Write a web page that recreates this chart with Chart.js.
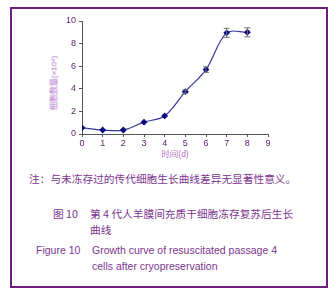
<!DOCTYPE html>
<html>
<head>
<meta charset="utf-8">
<script src="https://cdn.jsdelivr.net/npm/chart.js@4/dist/chart.umd.min.js"></script>
<style>
  body { margin: 0; background: #fff; width: 336px; height: 296px; overflow: hidden; position: relative; }
  #frame { position: absolute; left: 10px; top: 7px; width: 314px; height: 277px; border: 2px solid #6e1f7e; }
  #chartBox { position: absolute; left: 0; top: 0; width: 336px; height: 170px; }
  #yTitle { position: absolute; left: 53px; top: 83px; transform: translate(-50%, -50%) rotate(-90deg);
            font-family: "Liberation Sans", "Noto Sans CJK SC", sans-serif; font-size: 8px; color: #b070c8; white-space: nowrap; }
  .cap { position: absolute; color: #7d3590; white-space: nowrap; }
  .zh { font-family: "Noto Sans CJK SC", sans-serif; font-size: 10.7px; }
  .en { font-family: "Liberation Sans", Arial, sans-serif; font-size: 10.5px; }
</style>
</head>
<body>
<div id="frame"></div>
<div id="chartBox"><canvas id="growth"></canvas></div>
<div id="yTitle">细胞数量(×10⁴)</div>

<div class="cap zh" style="left:29px; top:171px;">注：与未冻存过的传代细胞生长曲线差异无显著性意义。</div>
<div class="cap zh" style="left:53px; top:206px;">图 10</div>
<div class="cap zh" style="left:90px; top:206px;">第 4 代人羊膜间充质干细胞冻存复苏后生长</div>
<div class="cap zh" style="left:90px; top:222px;">曲线</div>
<div class="cap en" style="left:36px; top:244px;">Figure 10</div>
<div class="cap en" style="left:92px; top:244px;">Growth curve of resuscitated passage 4</div>
<div class="cap en" style="left:92px; top:260px;">cells after cryopreservation</div>

<script>
var days = [0, 1, 2, 3, 4, 5, 6, 7, 8];
var cellCounts = [0.55, 0.35, 0.35, 1.05, 1.6, 3.75, 5.7, 8.95, 9.0];
var errors = [0, 0, 0, 0, 0, 0.15, 0.25, 0.4, 0.4];
var yTicks = [0, 1, 2, 3, 4, 5, 6, 7, 8, 9, 10];
var xTicks = [0, 1, 2, 3, 4, 5, 6, 7, 8, 9];

var points = days.map(function (d, i) { return { x: d, y: cellCounts[i] }; });

// error bars drawn through the chart scales
var errorBars = {
  id: 'errorBars',
  afterDatasetsDraw: function (chart) {
    var ctx = chart.ctx;
    var xs = chart.scales.x, ys = chart.scales.y;
    ctx.save();
    ctx.strokeStyle = '#777';
    ctx.lineWidth = 1;
    days.forEach(function (d, i) {
      if (!errors[i]) return;
      var px = xs.getPixelForValue(d);
      var top = ys.getPixelForValue(cellCounts[i] + errors[i]);
      var bot = ys.getPixelForValue(cellCounts[i] - errors[i]);
      ctx.beginPath();
      ctx.moveTo(px, top); ctx.lineTo(px, bot);
      ctx.moveTo(px - 3, top); ctx.lineTo(px + 3, top);
      ctx.moveTo(px - 3, bot); ctx.lineTo(px + 3, bot);
      ctx.stroke();
    });
    ctx.restore();
  }
};

new Chart(document.getElementById('growth'), {
  type: 'line',
  data: {
    datasets: [{
      data: points,
      borderColor: '#35379a',
      borderWidth: 1.2,
      backgroundColor: '#0a0a80',
      pointBackgroundColor: '#0a0a80',
      pointBorderColor: '#0a0a80',
      pointStyle: 'rectRot',
      pointRadius: 2.6,
      tension: 0.35
    }]
  },
  options: {
    responsive: true,
    maintainAspectRatio: false,
    animation: false,
    layout: { padding: { left: 40, right: 68, top: 21, bottom: 10 } },
    plugins: { legend: { display: false }, tooltip: { enabled: false } },
    scales: {
      x: {
        type: 'linear',
        min: 0,
        max: 9,
        afterBuildTicks: function (s) { s.ticks = xTicks.map(function (v) { return { value: v }; }); },
        afterFit: function (s) { s.height = 26; },
        grid: { drawOnChartArea: false, tickLength: 3, color: '#555' },
        border: { color: '#555', width: 1 },
        ticks: { color: '#5a1a70', font: { size: 9, family: 'Liberation Sans' }, padding: 1, maxRotation: 0 },
        title: { display: true, text: '时间(d)', color: '#b070c8', font: { size: 8.5, family: '"Liberation Sans", "Noto Sans CJK SC"' }, padding: { top: 0, bottom: 0 } }
      },
      y: {
        min: 0,
        max: 10,
        afterBuildTicks: function (s) { s.ticks = yTicks.map(function (v) { return { value: v }; }); },
        afterFit: function (s) { s.width = 42; },
        grid: { drawOnChartArea: false, tickLength: 3, color: '#555' },
        border: { color: '#555', width: 1 },
        ticks: { color: '#5a1a70', font: { size: 9, family: 'Liberation Sans' }, padding: 3 },
        title: { display: false }
      }
    }
  },
  plugins: [errorBars]
});
</script>
</body>
</html>
